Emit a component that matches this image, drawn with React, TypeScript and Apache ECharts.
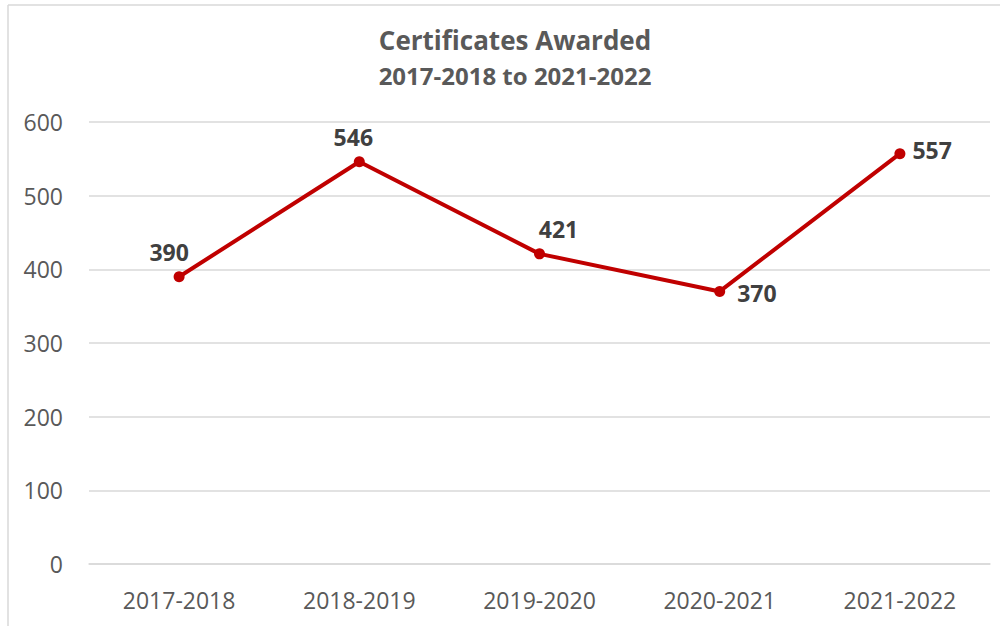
import React, { useEffect, useRef } from "react";
import * as echarts from "echarts";

const categories = ["2017-2018", "2018-2019", "2019-2020", "2020-2021", "2021-2022"];
const values = [390, 546, 421, 370, 557];
const labelPositions = ["top", "top", "top", "right", "right"];
const labelOffsets = [[-10, 0], [-6, 0], [19, 0], [4, 2], [-1, -4]];
const titleText = "Certificates Awarded";
const subtitleText = "2017-2018 to 2021-2022";

export default function App() {
  const ref = useRef<HTMLDivElement>(null);
  useEffect(() => {
    if (!ref.current) return;
    const chart = echarts.init(ref.current, undefined, { renderer: "svg" });
    const font = "'Open Sans', 'Noto Sans', sans-serif";
    chart.setOption({
      animation: false,
      backgroundColor: "#ffffff",
      title: {
        text: titleText,
        subtext: subtitleText,
        left: 510,
        textAlign: "center",
        top: 22,
        itemGap: 10,
        textStyle: { fontFamily: font, fontSize: 26, fontWeight: "bold", color: "#595959" },
        subtextStyle: { fontFamily: font, fontSize: 24, fontWeight: "bold", color: "#595959" },
      },
      graphic: [
        { type: "line", shape: { x1: 8, y1: 5, x2: 1000, y2: 5 }, style: { stroke: "#d9d9d9", lineWidth: 1.5 } },
        { type: "line", shape: { x1: 8, y1: 5, x2: 8, y2: 626 }, style: { stroke: "#d9d9d9", lineWidth: 1.5 } },
      ],
      grid: { left: 89, right: 10, top: 122, bottom: 62, containLabel: false },
      xAxis: {
        type: "category",
        data: categories,
        boundaryGap: true,
        axisLine: { show: true, lineStyle: { color: "#d9d9d9", width: 1.5 } },
        axisTick: { show: false },
        axisLabel: { fontFamily: font, fontSize: 23, color: "#595959", margin: 24 },
      },
      yAxis: {
        type: "value",
        min: 0,
        max: 600,
        interval: 100,
        axisLine: { show: false },
        axisTick: { show: false },
        splitLine: { lineStyle: { color: "#d9d9d9", width: 1.5 } },
        axisLabel: { fontFamily: font, fontSize: 23, color: "#595959", margin: 26 },
      },
      series: [
        {
          type: "line",
          data: values.map((v, i) => ({
            value: v,
            label: { position: labelPositions[i], offset: labelOffsets[i] },
          })),
          symbol: "circle",
          symbolSize: 11,
          lineStyle: { color: "#C00000", width: 4 },
          itemStyle: { color: "#C00000" },
          label: {
            show: true,
            fontFamily: font,
            fontSize: 23,
            fontWeight: "bold",
            color: "#404040",
            distance: 8,
          },
        },
      ],
    });
    return () => chart.dispose();
  }, []);
  return <div ref={ref} style={{ position: "fixed", left: 0, top: 0, width: 1000, height: 626 }} />;
}
